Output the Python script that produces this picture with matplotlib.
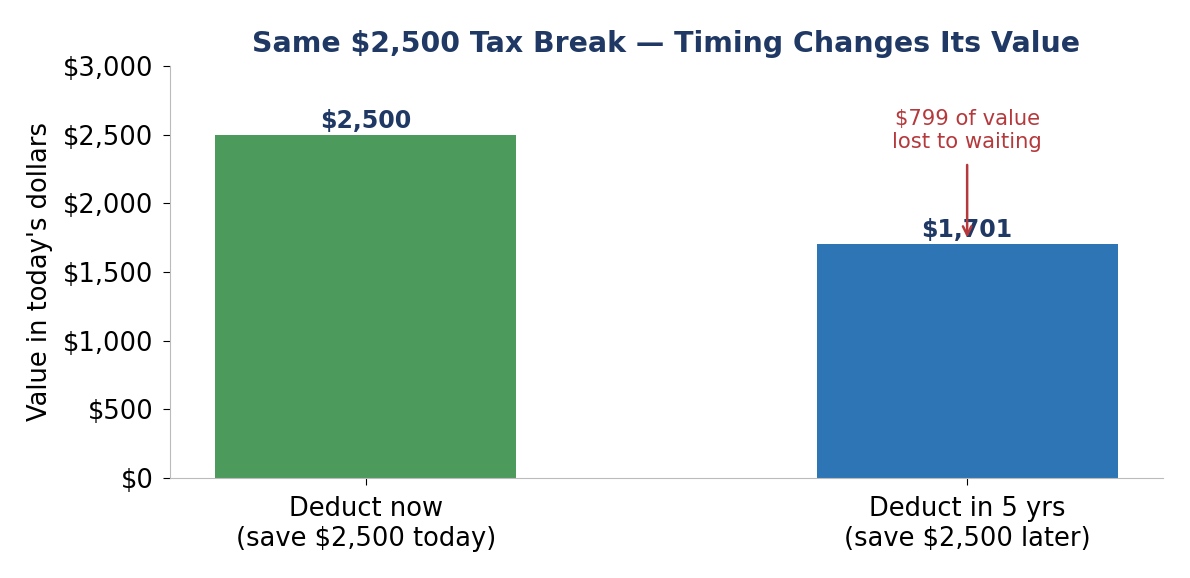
import matplotlib.pyplot as plt
from matplotlib.ticker import FuncFormatter

labels = ["Deduct now\n(save $2,500 today)", "Deduct in 5 yrs\n(save $2,500 later)"]
values = [2500, 1701]
colors = ["#4c9a5c", "#2e75b6"]
navy = "#1f3864"
red = "#b5393c"

fig, ax = plt.subplots(figsize=(11.9, 5.78), dpi=100)
x = range(len(values))
ax.bar(x, values, width=0.5, color=colors)

# value labels
for i, v in enumerate(values):
    ax.text(i, v + 15, f"${v:,}", ha="center", va="bottom",
            fontsize=17, fontweight="bold", color=navy)

gap = values[0] - values[1]
ax.annotate(f"${gap} of value\nlost to waiting", xy=(1, 1730), xytext=(1, 2370),
            ha="center", va="bottom", fontsize=15.2, color=red,
            arrowprops=dict(arrowstyle="->", color=red, lw=1.8, shrinkA=7))

ax.set_ylim(0, 3000)
ax.set_xticks(list(x))
ax.set_xticklabels(labels, fontsize=18.5)
ax.yaxis.set_major_formatter(FuncFormatter(lambda v, p: f"${v:,.0f}"))
ax.tick_params(axis="y", labelsize=18.5, pad=7)
ax.tick_params(axis="x", pad=8)
ax.tick_params(length=5)
ax.set_ylabel("Value in today's dollars", fontsize=18.5, labelpad=7)
ax.set_title("Same $2,500 Tax Break — Timing Changes Its Value",
             fontsize=20.4, fontweight="bold", color=navy, pad=10)

for s in ["top", "right"]:
    ax.spines[s].set_visible(False)
for s in ["left", "bottom"]:
    ax.spines[s].set_color("#bbbbbb")

plt.subplots_adjust(left=0.143, right=0.977, top=0.886, bottom=0.173)
plt.savefig("out.png")
